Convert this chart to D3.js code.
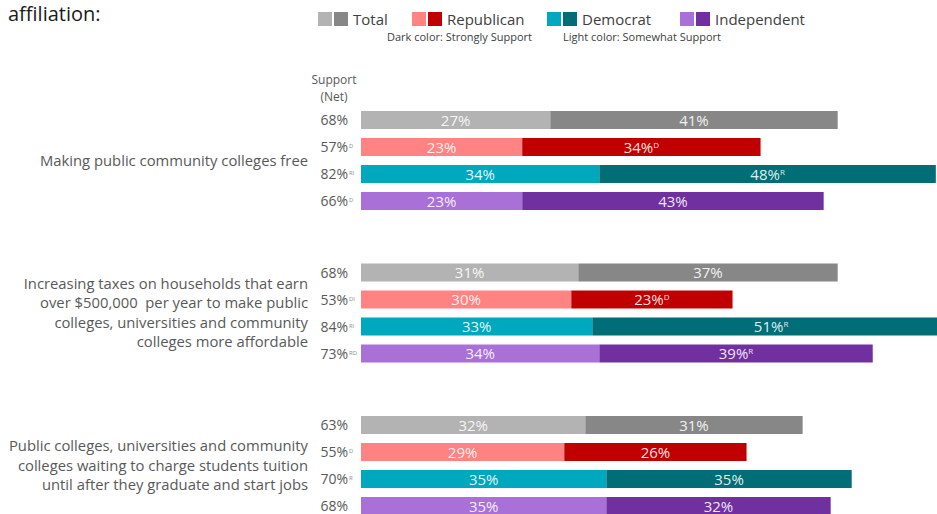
<!DOCTYPE html>
<html>
<head>
<meta charset="utf-8">
<script src="https://cdn.jsdelivr.net/npm/d3@7"></script>
<style>
  html, body { margin: 0; padding: 0; background: #fff; }
  svg { display: block; font-family: "Open Sans", Lato, sans-serif; }
</style>
</head>
<body>
<svg id="chart" width="937" height="514"></svg>
<script>
// Support for three college-affordability proposals, by party affiliation
const proposals = [
  ["Making public community colleges free"],
  ["Increasing taxes on households that earn",
   "over $500,000  per year to make public",
   "colleges, universities and community",
   "colleges more affordable"],
  ["Public colleges, universities and community",
   "colleges waiting to charge students tuition",
   "until after they graduate and start jobs"]
];
const parties = ["Total", "Republican", "Democrat", "Independent"];

// Somewhat support (light segment), strongly support (dark segment), net support
const somewhatSupport = [[27, 23, 34, 23], [31, 30, 33, 34], [32, 29, 35, 35]];
const stronglySupport = [[41, 34, 48, 43], [37, 23, 51, 39], [31, 26, 35, 32]];
const netSupport      = [[68, 57, 82, 66], [68, 53, 84, 73], [63, 55, 70, 68]];

// Significance markers
const strongMarks = [["", "D", "R", ""], ["", "D", "R", "R"], ["", "", "", ""]];
const netMarks    = [["", "D", "RI", "D"], ["", "DI", "RI", "RD"], ["", "D", "R", ""]];

const lightColors = ["#b3b3b3", "#ff8383", "#00a8be", "#a971d8"];
const darkColors  = ["#878787", "#c00000", "#006d77", "#7030a0"];

const svg = d3.select("#chart");

const x = d3.scaleLinear().domain([0, 100]).range([361, 361 + 701]);
const yGroup = d3.scaleBand().domain(d3.range(proposals.length)).range([111, 111 + 3 * 152.5]);
const yRow = d3.scaleBand().domain(parties).range([0, 99]).paddingInner(1 / 3).paddingOuter(0);

// Title fragment
svg.append("text").attr("x", 8).attr("y", 21)
  .attr("font-size", 20).attr("fill", "#1a1a1a").text("affiliation:");

// Legend
const legendX = [318, 412, 547, 680];
parties.forEach((p, i) => {
  const g = svg.append("g").attr("transform", `translate(${legendX[i]},12)`);
  g.append("rect").attr("x", 0).attr("y", 0).attr("width", 14).attr("height", 14).attr("fill", lightColors[i]);
  g.append("rect").attr("x", 16).attr("y", 0).attr("width", 14).attr("height", 14).attr("fill", darkColors[i]);
  g.append("text").attr("x", 35).attr("y", 13).attr("font-size", 15).attr("fill", "#404040").text(p);
});
svg.append("text").attr("x", 387).attr("y", 41).attr("font-size", 11).attr("fill", "#404040")
  .text("Dark color: Strongly Support");
svg.append("text").attr("x", 563).attr("y", 41).attr("font-size", 11).attr("fill", "#404040")
  .text("Light color: Somewhat Support");

// Net column header
svg.append("text").attr("x", 334).attr("y", 84).attr("text-anchor", "middle")
  .attr("font-size", 12).attr("fill", "#595959").text("Support");
svg.append("text").attr("x", 334).attr("y", 101).attr("text-anchor", "middle")
  .attr("font-size", 12).attr("fill", "#595959").text("(Net)");

proposals.forEach((lines, gi) => {
  const g = svg.append("g").attr("transform", `translate(0,${yGroup(gi)})`);
  const midY = yRow("Total") + (yRow("Independent") + yRow.bandwidth() - yRow("Total")) / 2;

  // Proposal label, right-aligned beside the bars
  const lh = 19.6;
  const label = g.append("text").attr("text-anchor", "end").attr("font-size", 14.8)
    .attr("fill", "#595959").attr("xml:space", "preserve");
  lines.forEach((ln, li) => {
    label.append("tspan").attr("x", 308)
      .attr("y", midY + (li - (lines.length - 1) / 2) * lh + 5)
      .text(ln);
  });

  parties.forEach((p, pi) => {
    const yTop = yRow(p);
    const h = yRow.bandwidth();
    const soft = somewhatSupport[gi][pi];
    const strong = stronglySupport[gi][pi];

    g.append("rect").attr("x", x(0)).attr("y", yTop)
      .attr("width", x(soft) - x(0)).attr("height", h).attr("fill", lightColors[pi]);
    g.append("rect").attr("x", x(soft)).attr("y", yTop)
      .attr("width", x(soft + strong) - x(soft)).attr("height", h).attr("fill", darkColors[pi]);

    // Segment labels
    g.append("text").attr("x", (x(0) + x(soft)) / 2).attr("y", yTop + h / 2 + 5.5)
      .attr("text-anchor", "middle").attr("font-size", 15).attr("fill", "#fff").attr("fill-opacity", 0.9)
      .text(soft + "%");
    const t2 = g.append("text").attr("x", (x(soft) + x(soft + strong)) / 2).attr("y", yTop + h / 2 + 5.5)
      .attr("text-anchor", "middle").attr("font-size", 15).attr("fill", "#fff").attr("fill-opacity", 0.9);
    t2.append("tspan").text(strong + "%");
    if (strongMarks[gi][pi]) {
      t2.append("tspan").attr("font-size", 8).attr("dy", -5).text(strongMarks[gi][pi]);
    }

    // Net support column
    g.append("text").attr("x", 348).attr("y", yTop + h / 2 + 5).attr("text-anchor", "end")
      .attr("font-size", 14).attr("fill", "#595959").text(netSupport[gi][pi] + "%");
    if (netMarks[gi][pi]) {
      g.append("text").attr("x", 349).attr("y", yTop + h / 2 + 1)
        .attr("font-size", 6).attr("fill", "#8c8c8c").text(netMarks[gi][pi]);
    }
  });
});
</script>
</body>
</html>
